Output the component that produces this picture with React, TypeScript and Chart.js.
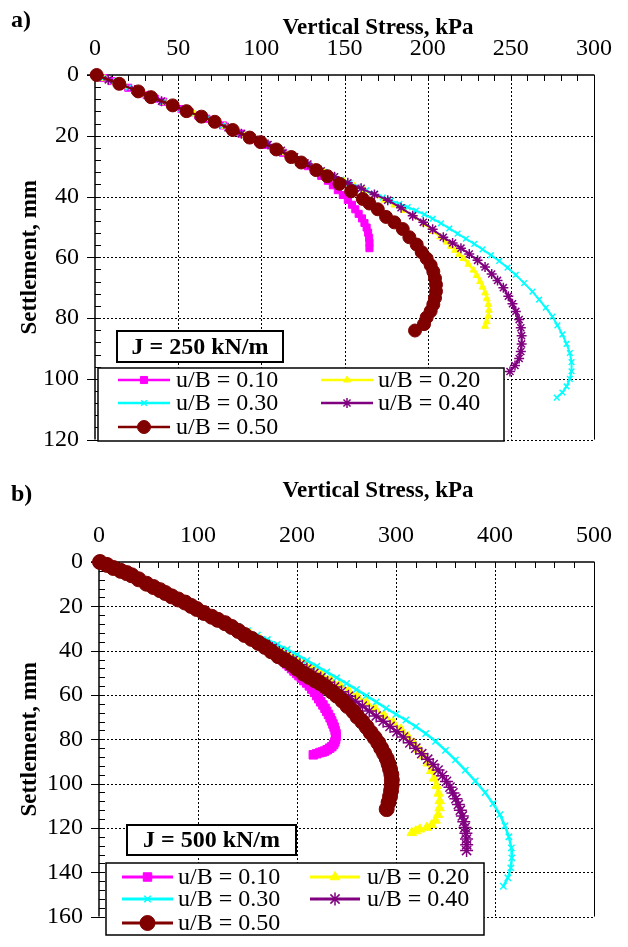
import React, { useEffect, useRef } from 'react';
import { Chart, registerables } from 'chart.js';
import { drawPoint } from 'chart.js/helpers';

Chart.register(...registerables);

const SERIF = "'Liberation Serif', 'Times New Roman', Times, serif";

// ---------- Panel a) J = 250 kN/m ----------
const aXTicks = [0, 50, 100, 150, 200, 250, 300];
const aYTicks = [0, 20, 40, 60, 80, 100, 120];

const aStress010 = [0, 5, 10, 15, 20, 26, 31, 36, 41, 47, 52, 57, 62, 67, 72, 77, 83, 88, 93, 98, 103, 108, 113, 118, 123, 128, 132, 136, 140, 143, 146, 149, 152, 154.5, 156.5, 158.5, 160.5, 162, 163.3, 164.2, 164.8, 165, 165];
const aSettle010 = [0, 1, 2, 3, 4.2, 5.4, 6.6, 7.8, 8.8, 10, 11.2, 12.3, 13.3, 14.4, 15.4, 16.6, 18.1, 19.3, 20.6, 21.8, 23, 24.3, 25.6, 27, 28.5, 30, 31.6, 33.2, 34.8, 36.3, 37.9, 39.5, 41.1, 42.7, 44.2, 45.7, 47.2, 48.7, 50.2, 51.9, 53.6, 55.2, 57];

const aStress020 = [0, 6, 12, 18, 24, 30, 36, 42, 48, 54, 60, 66, 72, 78, 84, 90, 96, 102, 108, 114, 120, 126, 132, 138, 144, 150, 156, 162, 168, 174, 180, 186, 192, 198, 203.4, 207.5, 211.4, 214, 216.5, 219, 221.5, 224.5, 227.5, 229.5, 231.5, 233, 234.5, 235.5, 236.5, 236.8, 236.5, 235.5, 234.5];
const aSettle020 = [0, 1.2, 2.4, 3.7, 5, 6.3, 7.7, 9, 10.3, 11.6, 12.8, 14.1, 15.4, 16.9, 18.3, 19.8, 21.3, 22.7, 24.1, 25.6, 27.1, 28.8, 30.4, 32, 33.5, 35, 36.5, 38, 39.6, 41.2, 42.8, 44.6, 46.6, 49, 51.5, 53.3, 55, 56.4, 57.7, 59, 60.4, 62.3, 64.2, 66, 68, 69.8, 71.7, 73.6, 75.5, 77.4, 79.3, 81.2, 82.7];

const aStress030 = [0, 5, 10, 15, 20, 26, 31, 36, 41, 47, 52, 57, 62, 67, 72, 77, 83, 88, 93, 98, 103, 108, 113, 118, 123, 128, 133, 138, 143, 148, 153, 158, 163, 168, 173, 178, 183, 188, 193, 198, 203, 208, 213, 218, 223, 228, 233, 238, 243, 248, 253, 258, 263, 267, 271, 275, 278, 281, 283.5, 285.5, 286.5, 286.5, 285.5, 283.5, 281, 277.6];
const aSettle030 = [0, 1, 2, 3, 4.2, 5.4, 6.6, 7.8, 8.8, 10, 11.2, 12.3, 13.3, 14.4, 15.4, 16.6, 18.1, 19.3, 20.5, 21.7, 22.9, 24.1, 25.4, 26.7, 28, 29.3, 30.6, 31.9, 33.1, 34.4, 35.6, 36.8, 38, 39.2, 40.3, 41.3, 42.4, 43.5, 44.6, 45.9, 47.3, 48.8, 50.5, 52.2, 53.9, 55.6, 57.4, 59.3, 61.2, 63.4, 65.8, 68.5, 71.3, 73.9, 76.6, 79.5, 82.4, 85.4, 88.5, 91.5, 94.5, 97.5, 100, 102.5, 104.5, 106.2];

const aStress040 = [0, 8, 16, 24, 32, 40, 48, 56, 64, 72, 80, 88, 96, 104, 112, 120, 128, 136, 144, 152, 160, 168, 176, 184, 191, 197.4, 203, 209.4, 215, 220, 225, 230, 234.5, 238.5, 242, 245.5, 248.5, 251, 253, 255, 256, 256.5, 256.5, 256, 255, 252.5, 249.5];
const aSettle040 = [0, 1.6, 3.2, 4.9, 6.8, 8.6, 10.3, 12, 13.7, 15.4, 17.4, 19.3, 21.2, 22.9, 24.8, 26.9, 29.3, 31.5, 33.5, 35.5, 37.3, 39.3, 41.2, 43.7, 46.3, 48.5, 50.8, 53.4, 55.3, 57, 58.9, 61, 63.2, 65.5, 67.6, 70, 72.8, 75.3, 77.8, 80.5, 83.2, 85.8, 88.5, 91, 93.3, 95.6, 97.6];

const aStress050 = [1, 14.6, 26, 33.7, 46.7, 55, 64, 72, 82.8, 93, 99.6, 109, 118, 124, 133, 139.7, 147, 154, 161, 165, 170, 175, 180, 185, 189, 193.4, 196.4, 199.4, 201.8, 203.4, 204.4, 205, 205, 204.4, 203.4, 201.8, 199.4, 197.8, 192.4];
const aSettle050 = [0, 2.9, 5.4, 7.3, 10, 11.9, 13.7, 15.4, 18.1, 20.6, 22.1, 24.5, 27, 28.8, 31.3, 33.3, 35.8, 38.3, 40.8, 42.3, 44.2, 46.7, 48.5, 50.7, 53.4, 55.8, 58.3, 60.4, 62.6, 64.7, 66.9, 69, 71.2, 73.4, 75.5, 77.7, 79.8, 82, 84.1];

// ---------- Panel b) J = 500 kN/m ----------
const bXTicks = [0, 100, 200, 300, 400, 500];
const bYTicks = [0, 20, 40, 60, 80, 100, 120, 140, 160];

const bStress010 = [0, 8, 16, 24, 32, 40, 48, 56, 64, 72, 80, 88, 96, 104, 112, 120, 128, 136, 144, 152, 160, 168, 176, 183, 186, 189.6, 192, 194.5, 197, 199.7, 202, 204.5, 207, 209.8, 212.5, 215, 217.5, 219.9, 222, 224, 226.2, 228.3, 230, 231.8, 233.5, 235, 236.3, 237.5, 238.5, 239.4, 239.4, 239, 238.2, 237, 235.2, 233, 230.5, 228, 225.6, 223.2, 220, 216.5];
const bSettle010 = [0, 1.3, 3, 4.4, 5.8, 7.8, 9.8, 11.5, 13.4, 15.2, 16.9, 18.6, 20.6, 22.5, 24.3, 26.1, 27.8, 29.7, 31.9, 34.1, 36.2, 38.4, 40.7, 43, 44.3, 46, 47, 48.1, 49.2, 50.3, 51.3, 52.4, 53.5, 54.6, 55.9, 57.3, 58.8, 60.3, 61.7, 63.1, 64.5, 66, 67.4, 68.8, 70.3, 71.7, 73.1, 74.5, 76, 77.4, 78.7, 80, 81.2, 82.3, 83.3, 84, 84.7, 85.3, 85.7, 86, 86.5, 87];

const bStress020 = [0, 9, 18, 27, 36, 45, 54, 63, 72, 81, 90, 99, 108, 117, 126, 135, 144, 153, 162, 171, 180, 189, 198, 207, 216, 225, 234, 243, 252, 261, 270, 279, 288, 297, 305, 312, 318, 323, 328, 332, 335.5, 338.5, 341, 343, 344.2, 344, 342.5, 340, 336, 331, 324, 320, 315.9];
const bSettle020 = [0, 1.7, 3.5, 5.1, 6.9, 9, 11, 13, 15, 17, 19, 21.1, 23.1, 25, 27, 28.8, 30.7, 32.6, 34.5, 36.5, 38.6, 40.8, 43.1, 45.5, 47.9, 50.4, 52.9, 55.4, 58, 60.6, 63.3, 66.2, 69.2, 72.3, 75.5, 78.8, 81.8, 84.6, 87.6, 90.8, 94.2, 97.6, 101, 104.4, 107.8, 111, 114, 116.6, 118.6, 119.8, 120.6, 121.4, 122.2];

const bStress030 = [0, 10, 20, 30, 40, 50, 60, 70, 80, 90, 100, 110, 120, 130, 140, 150, 160, 170, 180, 190, 200, 210, 220, 230, 240, 250, 260, 270, 280, 290, 300, 310, 320, 330, 340, 350, 360, 370, 380, 390, 398, 405, 410, 414, 416.5, 417, 416, 413, 408.4];
const bSettle030 = [0, 1.9, 3.8, 5.6, 7.7, 10, 12.3, 14.6, 16.8, 19, 21.2, 23.3, 25.3, 27.2, 29.1, 31, 32.9, 35, 37.2, 39.4, 41.8, 44.4, 47, 49.6, 52.2, 54.8, 57.5, 60.3, 63.1, 66, 68.7, 71.3, 74.2, 77.4, 80.9, 85, 89.3, 93.9, 98.8, 104, 109, 114, 119, 124, 129, 133.5, 138, 142.5, 146.3];

const bStress040 = [0, 7, 14, 21, 28, 35, 42, 49, 56, 63, 70, 77, 84, 91, 98, 105, 112, 119, 126, 133, 140, 147, 154, 161, 168, 175, 182, 189, 196, 203, 210, 217, 224, 231, 238, 245, 252, 259, 266, 273, 280, 287, 294, 301, 307.5, 314, 320, 326, 332, 337.5, 342.5, 347, 351, 354.5, 357.5, 360.5, 363, 365, 367, 368.5, 369.7, 370.6, 371.2, 371.4, 371.3];
const bSettle040 = [0, 1.3, 2.7, 4, 5.2, 6.7, 8.3, 9.9, 11.5, 13, 14.6, 16.2, 17.7, 19.3, 21, 22.6, 24.2, 25.9, 27.4, 29, 30.7, 32.3, 34, 35.6, 37.3, 39, 40.8, 42.6, 44.5, 46.4, 48.3, 50.3, 52.3, 54.3, 56.4, 58.5, 60.6, 62.8, 65, 67.2, 69.5, 71.8, 74.2, 76.6, 79, 81.6, 84, 86.5, 89, 91.4, 93.9, 96.4, 99, 101.6, 104.2, 106.8, 109.4, 112, 114.6, 117.2, 119.8, 122.4, 125, 127.6, 130.2];

const bStress050 = [1, 8, 14.5, 22, 28, 33, 40, 48, 55, 61.6, 67, 73.4, 80, 87, 93, 98.7, 106, 113.8, 120, 127.3, 134, 140.7, 147, 154.2, 161, 167.7, 174, 181.1, 188, 194.6, 200, 206.4, 212, 218, 223.2, 229, 235, 240.1, 246, 251, 256.9, 261, 266, 270.4, 274.5, 278.5, 282.1, 285, 288, 290.6, 292.5, 294, 295.3, 295.8, 295.6, 295, 294, 292.5, 290.6];
const bSettle050 = [0, 1.3, 2.7, 4, 5, 6, 7.8, 9.8, 11.3, 12.7, 14, 15.5, 16.9, 18.3, 19.8, 21.2, 23, 24.7, 26.1, 27.6, 29.3, 31.1, 32.9, 34.7, 36.5, 38.3, 40.3, 42.5, 44.3, 46.1, 48.1, 50.3, 51.8, 53.3, 54.6, 56.4, 58.4, 60.3, 62.6, 65, 67.4, 69.8, 72.1, 74.5, 77, 79.3, 81.6, 84, 86.4, 88.7, 91.1, 93.5, 95.9, 98.3, 100.7, 103.2, 105.8, 108.5, 111.5];

// ---------- shared series look ----------
const SERIES_LABELS = ['u/B = 0.10', 'u/B = 0.20', 'u/B = 0.30', 'u/B = 0.40', 'u/B = 0.50'];
const SERIES_COLORS = ['#FF00FF', '#FFFF00', '#00FFFF', '#800080', '#800000'];
const POINT_STYLES = ['rect', 'triangle', 'crossRot', 'star', 'circle'];
const DRAW_ORDER = [4, 3, 2, 1, 0];
const LEGEND_SLOTS = [[0, 0], [1, 0], [0, 1], [1, 1], [0, 2]];

const PANEL_A = {
  height: 470,
  xMax: 300, yMax: 120,
  xTicks: aXTicks, yTicks: aYTicks,
  xMinor: 10, yMinor: 4,
  series: [[aStress010, aSettle010], [aStress020, aSettle020], [aStress030, aSettle030], [aStress040, aSettle040], [aStress050, aSettle050]],
  chartLeft: 95, chartTop: 75, padRight: 34, padBottom: 24,
  panelLabel: 'a)', panelLabelY: 27, titleX: 378, titleY: 34, yTitleX: 30,
  jText: 'J = 250 kN/m', jBox: [117, 331, 166, 31],
  legendBox: [98, 368, 406, 73], legendRows: [380, 403, 427], legendCols: [[118, 170, 176], [321, 373, 378]],
  pointRadii: [5, 4, 4, 5, 6.5], pointBorder: [1, 1, 1.5, 1.5, 1], lineWidth: 2,
};

const PANEL_B = {
  height: 477,
  xMax: 500, yMax: 160,
  xTicks: bXTicks, yTicks: bYTicks,
  xMinor: 20, yMinor: 4,
  series: [[bStress010, bSettle010], [bStress020, bSettle020], [bStress030, bSettle030], [bStress040, bSettle040], [bStress050, bSettle050]],
  chartLeft: 99, chartTop: 92, padRight: 34, padBottom: 10,
  panelLabel: 'b)', panelLabelY: 31, titleX: 378, titleY: 27, yTitleX: 30,
  jText: 'J = 500 kN/m', jBox: [127, 355, 169, 30],
  legendBox: [106, 393, 378, 72], legendRows: [407, 429, 453], legendCols: [[122, 173, 178], [310, 360, 367]],
  pointRadii: [6, 5.5, 4.5, 6.5, 7.5], pointBorder: [1, 1, 1.5, 1.5, 1], lineWidth: 2.5,
};

function toPoints(xs: number[], ys: number[]) {
  return xs.map((x, i) => ({ x, y: ys[i] }));
}

function line(ctx: CanvasRenderingContext2D, x0: number, y0: number, x1: number, y1: number) {
  ctx.beginPath();
  ctx.moveTo(x0, y0);
  ctx.lineTo(x1, y1);
  ctx.stroke();
}

function makeDecor(cfg: any) {
  return {
    id: 'decor',
    beforeDatasetsDraw(chart: any) {
      const { ctx, chartArea: ca } = chart;
      const xs = chart.scales.x;
      const ys = chart.scales.y;
      ctx.save();
      ctx.strokeStyle = '#000';
      ctx.lineWidth = 1;
      ctx.setLineDash([2, 2]);
      for (const v of cfg.xTicks) {
        if (v <= 0 || v >= cfg.xMax) continue;
        const p = Math.round(xs.getPixelForValue(v)) + 0.5;
        line(ctx, p, ca.top, p, ca.bottom);
      }
      for (const v of cfg.yTicks) {
        if (v <= 0) continue;
        const p = Math.round(ys.getPixelForValue(v)) + 0.5;
        line(ctx, ca.left, p, ca.right, p);
      }
      ctx.setLineDash([]);
      for (let v = 0; v <= cfg.xMax + 1e-9; v += cfg.xMinor) {
        const p = Math.round(xs.getPixelForValue(v)) + 0.5;
        line(ctx, p, ca.top, p, ca.top + 6);
      }
      for (let v = 0; v <= cfg.yMax + 1e-9; v += cfg.yMinor) {
        const p = Math.round(ys.getPixelForValue(v)) + 0.5;
        line(ctx, ca.left, p, ca.left + 6, p);
      }
      for (const v of cfg.yTicks) {
        const p = Math.round(ys.getPixelForValue(v)) + 0.5;
        line(ctx, ca.left - 8, p, ca.left, p);
      }
      ctx.lineWidth = 1;
      line(ctx, Math.round(ca.right) + 0.5, ca.top, Math.round(ca.right) + 0.5, ca.bottom);
      ctx.lineWidth = 1.5;
      line(ctx, ca.left - 8, ca.top, ca.right + 0.5, ca.top);
      line(ctx, ca.left, ca.top, ca.left, ca.bottom);
      ctx.restore();
    },
    afterDraw(chart: any) {
      const { ctx, chartArea: ca } = chart;
      ctx.save();
      ctx.fillStyle = '#000';
      ctx.textBaseline = 'alphabetic';
      ctx.font = `bold 24px ${SERIF}`;
      ctx.textAlign = 'left';
      ctx.fillText(cfg.panelLabel, 11, cfg.panelLabelY);
      ctx.font = `bold 23px ${SERIF}`;
      ctx.textAlign = 'center';
      ctx.fillText('Vertical Stress, kPa', cfg.titleX, cfg.titleY);
      ctx.save();
      ctx.translate(cfg.yTitleX, (ca.top + ca.bottom) / 2);
      ctx.rotate(-Math.PI / 2);
      ctx.textBaseline = 'middle';
      ctx.fillText('Settlement, mm', 0, 0);
      ctx.restore();

      const [jx, jy, jw, jh] = cfg.jBox;
      ctx.fillStyle = '#fff';
      ctx.fillRect(jx, jy, jw, jh);
      ctx.strokeStyle = '#000';
      ctx.lineWidth = 2;
      ctx.strokeRect(jx, jy, jw, jh);
      ctx.fillStyle = '#000';
      ctx.font = `bold 24px ${SERIF}`;
      ctx.textAlign = 'center';
      ctx.textBaseline = 'middle';
      ctx.fillText(cfg.jText, jx + jw / 2, jy + jh / 2 + 1);

      const [lx, ly, lw, lh] = cfg.legendBox;
      ctx.fillStyle = '#fff';
      ctx.fillRect(lx, ly, lw, lh);
      ctx.lineWidth = 1.5;
      ctx.strokeStyle = '#000';
      ctx.strokeRect(lx, ly, lw, lh);
      ctx.font = `24px ${SERIF}`;
      ctx.textAlign = 'left';
      ctx.textBaseline = 'middle';
      SERIES_LABELS.forEach((label, i) => {
        const [c, r] = LEGEND_SLOTS[i];
        const [x0, x1, tx] = cfg.legendCols[c];
        const y = cfg.legendRows[r];
        const col = SERIES_COLORS[i];
        ctx.strokeStyle = col;
        ctx.fillStyle = col;
        ctx.lineWidth = cfg.lineWidth + 0.5;
        line(ctx, x0, y, x1, y);
        ctx.lineWidth = cfg.pointBorder[i];
        drawPoint(ctx, { pointStyle: POINT_STYLES[i], radius: cfg.pointRadii[i], rotation: 0, borderWidth: cfg.pointBorder[i] } as any, (x0 + x1) / 2, y);
        ctx.fillStyle = '#000';
        ctx.fillText(label, tx, y + 1);
      });
      ctx.restore();
    },
  };
}

function buildChart(canvas: HTMLCanvasElement, cfg: any) {
  const datasets = cfg.series.map((s: number[][], i: number) => ({
    label: SERIES_LABELS[i],
    data: toPoints(s[0], s[1]),
    showLine: true,
    borderColor: SERIES_COLORS[i],
    backgroundColor: SERIES_COLORS[i],
    pointBackgroundColor: SERIES_COLORS[i],
    pointBorderColor: SERIES_COLORS[i],
    pointStyle: POINT_STYLES[i],
    pointRadius: cfg.pointRadii[i],
    pointHoverRadius: cfg.pointRadii[i],
    pointBorderWidth: cfg.pointBorder[i],
    borderWidth: cfg.lineWidth,
    tension: 0,
    clip: false,
    order: DRAW_ORDER[i],
  }));
  return new Chart(canvas, {
    type: 'scatter',
    data: { datasets },
    options: {
      animation: false,
      responsive: false,
      devicePixelRatio: 1,
      events: [],
      layout: { padding: { left: 0, top: 0, right: cfg.padRight, bottom: cfg.padBottom } },
      plugins: { legend: { display: false }, tooltip: { enabled: false } },
      scales: {
        x: {
          type: 'linear',
          position: 'top',
          min: 0,
          max: cfg.xMax,
          grid: { display: false, drawTicks: false },
          border: { display: false },
          afterBuildTicks: (s: any) => { s.ticks = cfg.xTicks.map((v: number) => ({ value: v })); },
          afterFit: (s: any) => { s.height = cfg.chartTop; },
          ticks: { color: '#000', font: { family: SERIF, size: 24 }, padding: 12, maxRotation: 0, autoSkip: false },
        },
        y: {
          type: 'linear',
          position: 'left',
          reverse: true,
          min: 0,
          max: cfg.yMax,
          grid: { display: false, drawTicks: false },
          border: { display: false },
          afterBuildTicks: (s: any) => { s.ticks = cfg.yTicks.map((v: number) => ({ value: v })); },
          afterFit: (s: any) => { s.width = cfg.chartLeft; },
          ticks: { color: '#000', font: { family: SERIF, size: 24 }, padding: 16, autoSkip: false },
        },
      },
    } as any,
    plugins: [makeDecor(cfg)],
  });
}

function Panel({ cfg }: { cfg: any }) {
  const ref = useRef<HTMLCanvasElement>(null);
  useEffect(() => {
    const chart = buildChart(ref.current as HTMLCanvasElement, cfg);
    return () => chart.destroy();
  }, [cfg]);
  return <canvas ref={ref} width={628} height={cfg.height} style={{ display: 'block', width: 628, height: cfg.height }} />;
}

export default function App() {
  return (
    <div style={{ position: 'absolute', left: 0, top: 0, width: 628, height: 947, background: '#fff', overflow: 'hidden' }}>
      <Panel cfg={PANEL_A} />
      <Panel cfg={PANEL_B} />
    </div>
  );
}
